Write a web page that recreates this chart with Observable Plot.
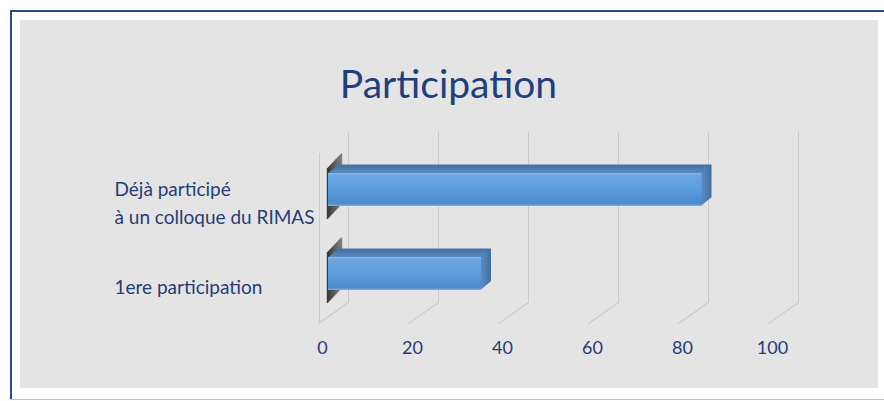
<!DOCTYPE html>
<html><head><meta charset="utf-8">
<script src="https://cdn.jsdelivr.net/npm/d3@7"></script>
<script src="https://cdn.jsdelivr.net/npm/@observablehq/plot@0.6"></script>
<style>
html,body{margin:0;padding:0;background:#fff;overflow:hidden;}
#wrap{position:relative;width:884px;height:401px;overflow:hidden;background:#fff;}
.ln{position:absolute;}
#lineTop{left:10px;top:10px;width:874px;height:2px;background:#2c4a8c;}
#lineLeft{left:10px;top:10px;width:2px;height:390px;background:#2c4a8c;}
#lineBottom{left:10px;top:399px;width:874px;height:1px;background:#b3bcd8;}
#panel{position:absolute;left:20px;top:20px;width:858px;height:368px;background:#e4e4e4;}
#chart{position:absolute;left:0;top:0;}
</style></head><body>
<div id="wrap"><div class="ln" id="lineTop"></div><div class="ln" id="lineLeft"></div><div class="ln" id="lineBottom"></div><div id="panel"></div><div id="chart"></div></div>
<script>
const title = "Participation";
const categories = ["Déjà participé\nà un colloque du RIMAS", "1ere participation"];
const values = [83, 34];
const ticks = [0, 20, 40, 60, 80, 100];

const data = categories.map((c, i) => ({cat: c, value: values[i]}));
const textColor = "#263c78";
const gridColor = "#cbcbcb";
const topCol = d3.interpolateRgb("#5b8dc6", "#42709f");
const shadowCol = d3.interpolateRgb("#333333", "#7a7a7a");
const sideCol = "#3b6796";

const marks = [];
// back wall gridlines
marks.push(Plot.ruleX(ticks, {x: d => d, dx: 20, stroke: gridColor, strokeWidth: 1}));
// floor diagonals
marks.push(Plot.vector(ticks, {x: d => d, frameAnchor: "bottom", dx: 20, length: 36.6, rotate: 235, anchor: "start", r: 0, stroke: gridColor, strokeWidth: 1}));
// left wall front edge
marks.push(Plot.ruleX([0], {x: d => d, dx: -9, insetTop: 21, insetBottom: -20, stroke: gridColor, strokeWidth: 1}));
// bar shadows on the wall
for (let k = 0; k <= 14; k++) {
  marks.push(Plot.tickX(data, {x: d => 0, y: "cat", dx: -1 + k, dy: -k * 1.05, insetTop: -5, insetBottom: -13, stroke: shadowCol(k / 14), strokeWidth: 1.4, strokeOpacity: 0.95}));
}
// bar top faces
for (let k = 10; k >= 1; k--) {
  marks.push(Plot.barX(data, {x: "value", y: "cat", dx: k, dy: -k * 0.85, fill: topCol(k / 10)}));
}
// bar side faces
for (let k = 10; k >= 0.5; k -= 0.5) {
  marks.push(Plot.ruleX(data, {x: "value", y: "cat", dx: k, dy: -k * 0.85, stroke: sideCol, strokeWidth: 1.2}));
}
// bar front faces
marks.push(Plot.barX(data, {x: "value", y: "cat", fill: "url(#frontGrad)"}));
// tick labels
marks.push(Plot.text(ticks, {x: d => d, frameAnchor: "bottom", dy: 51, dx: -6, text: d => String(d), fontSize: 18, fill: textColor}));
// category labels
marks.push(Plot.text(data, {x: d => 0, y: "cat", text: "cat", textAnchor: "start", dx: -214, dy: 11, fontSize: 19, lineHeight: 1.47, fill: textColor}));
// title
marks.push(Plot.text([title], {frameAnchor: "top", text: d => d, dy: -62, dx: 6, fontSize: 39, fill: "#1f3f80"}));

const svg = Plot.plot({
  width: 884,
  height: 401,
  marginTop: 132,
  marginBottom: 99,
  marginLeft: 0,
  marginRight: 0,
  style: {background: "transparent", fontFamily: "Lato, sans-serif"},
  x: {domain: [0, 100], range: [328, 778], axis: null},
  y: {domain: categories, range: [120, 342], padding: 0.612, axis: null},
  marks
});

const defs = d3.select(svg).insert("defs", ":first-child");
const g = defs.append("linearGradient").attr("id", "frontGrad").attr("x1", 0).attr("y1", 0).attr("x2", 0).attr("y2", 1);
g.append("stop").attr("offset", 0).attr("stop-color", "#8cbbea");
g.append("stop").attr("offset", 0.08).attr("stop-color", "#6ba6e0");
g.append("stop").attr("offset", 0.5).attr("stop-color", "#5c9ddd");
g.append("stop").attr("offset", 0.92).attr("stop-color", "#4a8bd0");
g.append("stop").attr("offset", 1).attr("stop-color", "#7fadde");

document.getElementById("chart").appendChild(svg);
</script>
</body></html>
